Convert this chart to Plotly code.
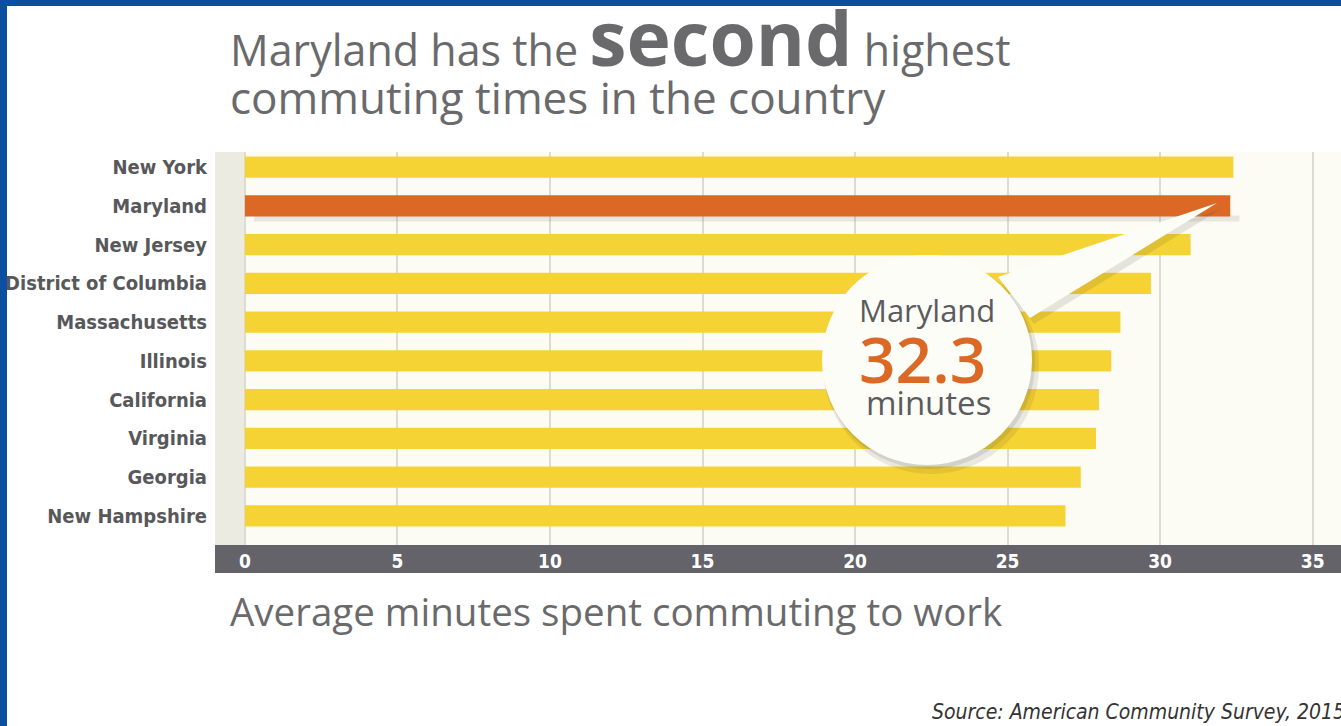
import plotly.graph_objects as go

# ---- data ----
states = ["New York", "Maryland", "New Jersey", "District of Columbia", "Massachusetts",
          "Illinois", "California", "Virginia", "Georgia", "New Hampshire"]
minutes = [32.4, 32.3, 31.0, 29.7, 28.7, 28.4, 28.0, 27.9, 27.4, 26.9]
highlight = "Maryland"
tick_vals = [0, 5, 10, 15, 20, 25, 30, 35]
tick_text = ["0", "5", "10", "15", "20", "25", "30", "35"]

# ---- styling ----
YELLOW = "#f6d334"
ORANGE = "#dc6826"
GRAY_TXT = "#6a6a6c"
LABEL_TXT = "#58585b"
BAND = "#646369"
BLUE = "#0b50a0"
COND = "DejaVu Sans Condensed, Liberation Sans Narrow, sans-serif"

W, H = 1341, 726
L, R, T, B = 215, 0, 152, 181
PW, PH = W - L - R, H - T - B


def px(x):
    return (x - L) / PW


def py(y):
    return 1 - (y - T) / PH


colors = [ORANGE if s == highlight else YELLOW for s in states]
hi = states.index(highlight)

fig = go.Figure()
fig.add_trace(go.Bar(
    x=minutes, y=states, orientation="h",
    marker=dict(color=colors, line=dict(width=0)),
    width=0.55, hoverinfo="x+y",
))

shapes = []
shapes.append(dict(type="rect", xref="x", yref="paper", x0=-0.98, x1=0, y0=0, y1=1,
                   fillcolor="#ebebe1", line=dict(width=0), layer="below"))
shapes.append(dict(type="rect", xref="x", yref="y", x0=0.3, x1=minutes[hi] + 0.3,
                   y0=hi + 0.25, y1=hi + 0.40, fillcolor="rgba(90,80,60,0.12)",
                   line=dict(width=0), layer="between"))
shapes.append(dict(type="rect", xref="paper", yref="paper", x0=0, x1=1,
                   y0=py(573), y1=py(545), fillcolor=BAND, line=dict(width=0), layer="below"))
shapes.append(dict(type="rect", xref="paper", yref="paper", x0=px(0), x1=px(7),
                   y0=py(H), y1=py(0), fillcolor=BLUE, line=dict(width=0), layer="above"))
shapes.append(dict(type="rect", xref="paper", yref="paper", x0=px(0), x1=px(W),
                   y0=py(6), y1=py(0), fillcolor=BLUE, line=dict(width=0), layer="above"))


def circle(cx, cy, r, fill):
    return dict(type="circle", xref="paper", yref="paper",
                x0=px(cx - r), x1=px(cx + r), y0=py(cy + r), y1=py(cy - r),
                fillcolor=fill, line=dict(width=0), layer="above")


def poly(pts, fill):
    d = "M " + " L ".join(f"{px(a):.5f},{py(b):.5f}" for a, b in pts) + " Z"
    return dict(type="path", xref="paper", yref="paper", path=d,
                fillcolor=fill, line=dict(width=0), layer="above")


BUB = "#fdfdf8"
shapes.append(circle(931, 366, 108, "rgba(60,60,50,0.10)"))
shapes.append(circle(929, 363, 106, "rgba(60,60,50,0.12)"))
shapes.append(poly([(1002, 284), (1221, 209), (1034, 324)], "rgba(60,60,50,0.12)"))
shapes.append(circle(927, 360, 105, BUB))
shapes.append(poly([(998, 277), (1217, 203), (1030, 318)], BUB))

ann = []
ann.append(dict(xref="paper", yref="paper", x=px(228), y=py(90), xanchor="left", yanchor="bottom",
                text="Maryland has the <b><span style='font-size:75px'>second</span></b> highest",
                showarrow=False, font=dict(family="Open Sans", size=43, color=GRAY_TXT)))
ann.append(dict(xref="paper", yref="paper", x=px(228), y=py(129), xanchor="left", yanchor="bottom",
                text="commuting times in the country",
                showarrow=False, font=dict(family="Open Sans", size=44, color=GRAY_TXT)))
ann.append(dict(xref="paper", yref="paper", x=px(228), y=py(639), xanchor="left", yanchor="bottom",
                text="Average minutes spent commuting to work",
                showarrow=False, font=dict(family="Open Sans", size=38.5, color=GRAY_TXT)))
ann.append(dict(xref="paper", yref="paper", x=px(930), y=py(726), xanchor="left", yanchor="bottom",
                text="<i>Source: American Community Survey, 2015</i>",
                showarrow=False, font=dict(family=COND, size=21, color="#333333")))
ann.append(dict(xref="paper", yref="paper", x=px(927), y=py(310), xanchor="center", yanchor="middle",
                text=highlight, showarrow=False,
                font=dict(family="Open Sans", size=31, color="#5b5b5e")))
ann.append(dict(xref="paper", yref="paper", x=px(922), y=py(358), xanchor="center", yanchor="middle",
                text=f"{minutes[hi]:.1f}", showarrow=False,
                font=dict(family="Open Sans", size=64, color=ORANGE, weight=600)))
ann.append(dict(xref="paper", yref="paper", x=px(928), y=py(402), xanchor="center", yanchor="middle",
                text="minutes", showarrow=False,
                font=dict(family="Open Sans", size=33, color="#5b5b5e")))

fig.update_layout(
    width=W, height=H,
    margin=dict(l=L, r=R, t=T, b=B, pad=0, autoexpand=False),
    paper_bgcolor="white", plot_bgcolor="#fcfcf4",
    showlegend=False,
    shapes=shapes, annotations=ann,
    xaxis=dict(range=[-0.98, 35.93], tickvals=tick_vals, ticktext=tick_text,
               showgrid=True, gridcolor="#dcdcd2", gridwidth=2, zeroline=False,
               showline=False, ticks="", ticklabelstandoff=3, automargin=False,
               tickfont=dict(family=COND, size=19, color="white", weight="bold"),
               fixedrange=True),
    yaxis=dict(categoryorder="array", categoryarray=states, range=[9.75, -0.39],
               showgrid=False, zeroline=False, showline=False, ticks="", ticklabelstandoff=7,
               automargin=False,
               tickfont=dict(family=COND, size=20, color=LABEL_TXT, weight="bold"),
               fixedrange=True),
)

fig.write_html("out.html", config={"displayModeBar": False},
               post_script="document.body.style.margin='0';document.body.style.overflow='hidden';")
